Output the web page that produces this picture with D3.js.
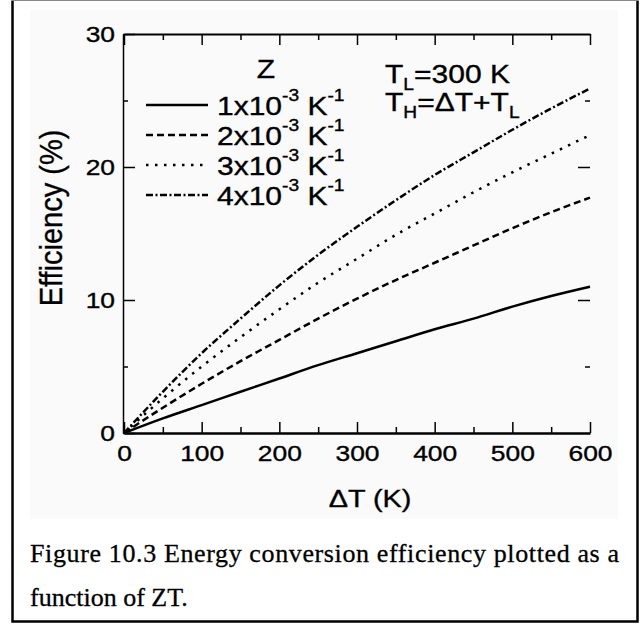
<!DOCTYPE html>
<html>
<head>
<meta charset="utf-8">
<script src="https://cdn.jsdelivr.net/npm/d3@7"></script>
<style>
    body { margin: 0; background: #fff; }
    svg text { font-family: "Liberation Sans", Arial, sans-serif; fill: #000; stroke: #000; stroke-width: 0.35px; }
    svg text.caption { font-family: "Liberation Serif", "Times New Roman", serif; stroke-width: 0.3px; }
</style>
</head>
<body>
<div id="chart"></div>
<script>

// values (efficiency in %, every 50 K)
let deltaT = [0, 50, 100, 150, 200, 250, 300, 350, 400, 450, 500, 550, 600];
let effZ1 = [0, 1.1, 2.1, 3.1, 4.1, 5.1, 6.0, 6.9, 7.8, 8.6, 9.5, 10.3, 11.0];
let effZ2 = [0, 1.9, 3.7, 5.4, 7.0, 8.6, 10.1, 11.5, 12.8, 14.1, 15.4, 16.6, 17.7];
let effZ3 = [0, 2.6, 5.0, 7.2, 9.3, 11.3, 13.1, 14.9, 16.5, 18.1, 19.6, 21.0, 22.4];
let effZ4 = [0, 3.1, 6.0, 8.6, 11.1, 13.4, 15.5, 17.5, 19.4, 21.1, 22.8, 24.4, 25.9];
let zValues = ["1", "2", "3", "4"];

let xMajor = [0, 100, 200, 300, 400, 500, 600];
let xMinor = [50, 150, 250, 350, 450, 550];
let yMajor = [0, 10, 20, 30];
let yMinor = [5, 25];

let captionLines = ["Figure 10.3 Energy conversion efficiency plotted as a", "function of ZT."];

let series = [effZ1, effZ2, effZ3, effZ4].map((vals, i) => ({
    z: zValues[i],
    values: vals.map((v, j) => ({dt: deltaT[j], eff: v}))
}));

// dash pattern per series: solid, dashed, dotted, dash-dot
let dashes = [null, "7,4", "2.5,6.5", "7,2.5,2,2.5"];

// the scanned plot is a little wider than tall, text gets stretched the same way
let SX = 1.2;

let width = 642, height = 624;
let plot = {left: 124, right: 590, top: 34, bottom: 433};

let svg = d3.select("#chart").append("svg")
    .attr("width", width)
    .attr("height", height);

// faint grey of the pasted chart image
svg.append("rect")
    .attr("x", 30).attr("y", 10)
    .attr("width", 588).attr("height", 509)
    .attr("fill", "#fafafa");

// frame round the figure: thin grey top, heavy black elsewhere
svg.append("path")
    .attr("d", "M12.5,0.5 V621.5 H637.5 V0.5")
    .attr("fill", "none")
    .attr("stroke", "#000")
    .attr("stroke-width", 2.5);
svg.append("line")
    .attr("x1", 12).attr("x2", 638)
    .attr("y1", 0.5).attr("y2", 0.5)
    .attr("stroke", "#888")
    .attr("stroke-width", 1.2);

let x = d3.scaleLinear().domain([0, 600]).range([plot.left, plot.right]);
let y = d3.scaleLinear().domain([0, 30]).range([plot.bottom, plot.top]);

function stretchText(parent, px, py, anchor, size) {
    return parent.append("g")
        .attr("transform", `translate(${px},${py}) scale(${SX},1)`)
        .append("text")
        .attr("text-anchor", anchor)
        .attr("font-size", size);
}

function styleAxis(g, domainWidth) {
    g.select(".domain").attr("stroke-width", domainWidth);
    g.selectAll(".tick line").attr("stroke-width", 1.5);
}

// bottom axis
let xAxisBottom = svg.append("g")
    .attr("transform", `translate(0,${plot.bottom})`)
    .call(d3.axisBottom(x).tickValues(xMajor).tickSize(-11).tickSizeOuter(0).tickPadding(12));
styleAxis(xAxisBottom, 2.5);
xAxisBottom.selectAll("text")
    .attr("font-size", 22)
    .attr("font-family", "Liberation Sans, Arial, sans-serif")
    .attr("transform", `scale(${SX},1)`);
svg.append("g")
    .attr("transform", `translate(0,${plot.bottom})`)
    .call(d3.axisBottom(x).tickValues(xMinor).tickSize(-6).tickFormat(""))
    .call(g => g.select(".domain").remove())
    .selectAll("line").attr("stroke-width", 1.5);

// top axis
let xAxisTop = svg.append("g")
    .attr("transform", `translate(0,${plot.top})`)
    .call(d3.axisTop(x).tickValues(xMajor).tickSize(-11).tickSizeOuter(0).tickFormat(""));
styleAxis(xAxisTop, 2);
svg.append("g")
    .attr("transform", `translate(0,${plot.top})`)
    .call(d3.axisTop(x).tickValues(xMinor).tickSize(-6).tickFormat(""))
    .call(g => g.select(".domain").remove())
    .selectAll("line").attr("stroke-width", 1.5);

// left axis
let yAxisLeft = svg.append("g")
    .attr("transform", `translate(${plot.left - 1},0)`)
    .call(d3.axisLeft(y).tickValues(yMajor).tickSize(-12).tickSizeOuter(0).tickPadding(8));
styleAxis(yAxisLeft, 1.5);
yAxisLeft.selectAll("text")
    .attr("font-size", 22)
    .attr("font-family", "Liberation Sans, Arial, sans-serif")
    .attr("x", -8 / SX)
    .attr("transform", `scale(${SX},1)`);
svg.append("g")
    .attr("transform", `translate(${plot.left - 1},0)`)
    .call(d3.axisLeft(y).tickValues(yMinor).tickSize(-5).tickFormat(""))
    .call(g => g.select(".domain").remove())
    .selectAll("line").attr("stroke-width", 1.5);

// right side: only the ticks survived in the scan
svg.append("g")
    .attr("transform", `translate(${plot.right},0)`)
    .call(d3.axisRight(y).tickValues([10, 20]).tickSize(-12).tickFormat(""))
    .call(g => g.select(".domain").remove())
    .selectAll("line").attr("stroke-width", 1.5);
svg.append("g")
    .attr("transform", `translate(${plot.right},0)`)
    .call(d3.axisRight(y).tickValues(yMinor).tickSize(-5).tickFormat(""))
    .call(g => g.select(".domain").remove())
    .selectAll("line").attr("stroke-width", 1.5);

// curves
let line = d3.line()
    .x(d => x(d.dt))
    .y(d => y(d.eff))
    .curve(d3.curveMonotoneX);

svg.append("g").selectAll("path")
    .data(series)
    .join("path")
    .attr("d", d => line(d.values))
    .attr("fill", "none")
    .attr("stroke", "#000")
    .attr("stroke-width", 2.5)
    .attr("stroke-dasharray", (d, i) => dashes[i]);

// axis titles
stretchText(svg, 370, 507, "middle", 24).text("\u0394T (K)");

svg.append("g")
    .attr("transform", `translate(62,218) scale(1.08,1) rotate(-90)`)
    .append("text")
    .attr("text-anchor", "middle")
    .attr("font-size", 29)
    .text("Efficiency (%)");

// legend
stretchText(svg, 266, 78, "middle", 25).text("Z");

let legend = svg.append("g");
series.forEach((s, i) => {
    let ly = 115 + i * 30;
    legend.append("line")
        .attr("x1", 146).attr("x2", 208)
        .attr("y1", ly - 10).attr("y2", ly - 10)
        .attr("stroke", "#000")
        .attr("stroke-width", 2.3)
        .attr("stroke-dasharray", dashes[i]);
    let t = stretchText(legend, 217, ly, "start", 25);
    t.append("tspan").text(s.z + "x10");
    t.append("tspan").attr("font-size", 16).attr("dy", -14).text("-3");
    t.append("tspan").attr("dy", 14).text(" K");
    t.append("tspan").attr("font-size", 16).attr("dy", -14).text("-1");
});

// conditions
let tl = stretchText(svg, 385, 83, "start", 25);
tl.append("tspan").text("T");
tl.append("tspan").attr("font-size", 16).attr("dy", 7).text("L");
tl.append("tspan").attr("dy", -7).text("=300 K");

let th = stretchText(svg, 385, 111, "start", 25);
th.append("tspan").text("T");
th.append("tspan").attr("font-size", 16).attr("dy", 7).text("H");
th.append("tspan").attr("dy", -7).text("=\u0394T+T");
th.append("tspan").attr("font-size", 16).attr("dy", 7).text("L");

// caption under the figure
svg.selectAll(".caption")
    .data(captionLines)
    .join("text")
    .attr("class", "caption")
    .attr("x", 30)
    .attr("y", (d, i) => 562 + i * 44)
    .attr("font-size", 26)
    .attr("textLength", (d, i) => i === 0 ? 589 : null)
    .attr("lengthAdjust", "spacing")
    .text(d => d);

</script>
</body>
</html>
